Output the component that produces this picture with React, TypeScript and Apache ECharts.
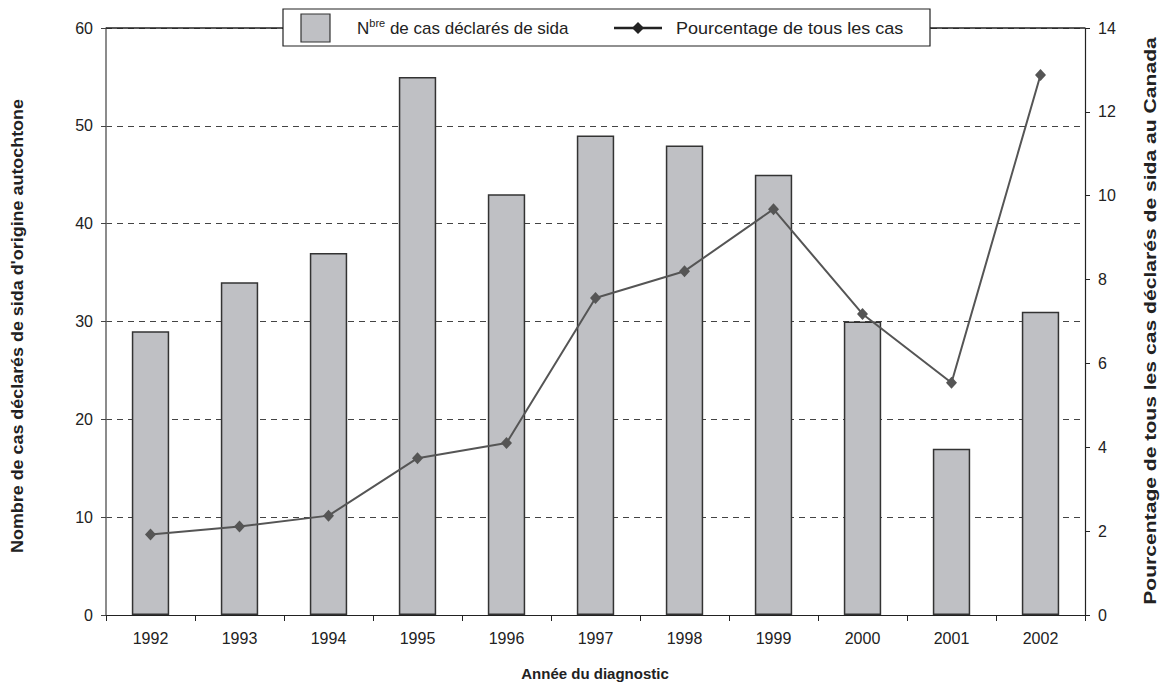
import React, { useEffect, useRef } from "react";
import * as echarts from "echarts";

const years = ["1992", "1993", "1994", "1995", "1996", "1997", "1998", "1999", "2000", "2001", "2002"];
const cases = [29, 34, 37, 55, 43, 49, 48, 45, 30, 17, 31];
const percent = [1.92, 2.11, 2.37, 3.74, 4.1, 7.56, 8.2, 9.68, 7.18, 5.54, 12.88];

const FONT = "Liberation Sans, Arial, sans-serif";
const leftTitle = "Nombre de cas déclarés de sida d'origine autochtone";
const rightTitle = "Pourcentage de tous les cas déclarés de sida au Canada";
const xTitle = "Année du diagnostic";

export default function App() {
  const ref = useRef<HTMLDivElement>(null);
  useEffect(() => {
    if (!ref.current) return;
    const chart = echarts.init(ref.current, undefined, { renderer: "svg" });
    chart.setOption({
      animation: false,
      backgroundColor: "#ffffff",
      textStyle: { fontFamily: FONT },
      grid: { left: 106, right: 82, top: 28, bottom: 69, show: false, containLabel: false, outerBoundsMode: "none" },
      xAxis: {
        type: "category",
        data: years,
        boundaryGap: true,
        axisLine: { lineStyle: { color: "#222", width: 1.2 } },
        axisTick: { show: true, length: 6, lineStyle: { color: "#222" } },
        axisLabel: { color: "#222", fontSize: 16, margin: 15, fontFamily: FONT },
      },
      yAxis: [
        {
          type: "value",
          min: 0,
          max: 60,
          interval: 10,
          axisLine: { show: true, lineStyle: { color: "#666", width: 1.5 } },
          axisTick: { show: true, length: 5, lineStyle: { color: "#444" } },
          axisLabel: { color: "#222", fontSize: 16, margin: 13, fontFamily: FONT },
          splitLine: { show: true, lineStyle: { color: "#444", type: [6, 5], width: 1 } },
        },
        {
          type: "value",
          min: 0,
          max: 14,
          interval: 2,
          position: "right",
          axisLine: { show: true, lineStyle: { color: "#222", width: 1.2 } },
          axisTick: { show: true, length: 5, lineStyle: { color: "#222" } },
          axisLabel: { color: "#222", fontSize: 16, margin: 13, fontFamily: FONT },
          splitLine: { show: false },
        },
      ],
      series: [
        {
          type: "bar",
          name: "Nbre de cas déclarés de sida",
          data: cases,
          yAxisIndex: 0,
          barWidth: "42%",
          itemStyle: { color: "#bfc0c4", borderColor: "#333", borderWidth: 1.5 },
        },
        {
          type: "line",
          name: "Pourcentage de tous les cas",
          data: percent,
          yAxisIndex: 1,
          symbol: "diamond",
          symbolSize: [11, 12],
          lineStyle: { color: "#555", width: 2 },
          itemStyle: { color: "#555" },
        },
      ],
      graphic: [
        { type: "line", shape: { x1: 106, y1: 28, x2: 1085, y2: 28 }, style: { stroke: "#222", lineWidth: 1.5 }, z: 50 },
        { type: "rect", shape: { x: 283, y: 9, width: 647, height: 37 }, style: { fill: "#fff", stroke: "#222", lineWidth: 1.2 }, z: 60 },
        { type: "rect", shape: { x: 301, y: 14, width: 29, height: 28 }, style: { fill: "#bfc0c4", stroke: "#333", lineWidth: 1.2 }, z: 61 },
        {
          type: "text",
          x: 357,
          y: 28,
          z: 61,
          style: {
            text: "{n|N}{s|bre}{n| de cas déclarés de sida}",
            verticalAlign: "middle",
            fill: "#222",
            rich: {
              n: { fontSize: 17, fontFamily: FONT, fill: "#222", lineHeight: 22 },
              s: { fontSize: 11, fontFamily: FONT, fill: "#222", verticalAlign: "top", lineHeight: 22 },
            },
          },
        },
        { type: "line", shape: { x1: 614, y1: 28, x2: 662, y2: 28 }, style: { stroke: "#222", lineWidth: 2.5 }, z: 61 },
        { type: "polygon", shape: { points: [[638, 22], [644, 28], [638, 34], [632, 28]] }, style: { fill: "#222" }, z: 62 },
        {
          type: "text",
          x: 676,
          y: 28,
          z: 61,
          scaleX: 1.06,
          style: { text: "Pourcentage de tous les cas", fontSize: 17, fontFamily: FONT, fill: "#222", verticalAlign: "middle" },
        },
        {
          type: "text",
          x: 18,
          y: 326,
          rotation: Math.PI / 2,
          scaleX: 1.12,
          style: { text: leftTitle, fontSize: 16, fontWeight: "bold", fontFamily: FONT, fill: "#222", align: "center", verticalAlign: "middle" },
        },
        {
          type: "text",
          x: 1150,
          y: 321,
          rotation: Math.PI / 2,
          scaleX: 1.32,
          style: { text: rightTitle, fontSize: 16, fontWeight: "bold", fontFamily: FONT, fill: "#222", align: "center", verticalAlign: "middle" },
        },
        {
          type: "text",
          x: 595,
          y: 673,
          style: { text: xTitle, fontSize: 15, fontWeight: "bold", fontFamily: FONT, fill: "#222", align: "center", verticalAlign: "middle" },
        },
      ],
    });
    return () => chart.dispose();
  }, []);
  return <div ref={ref} style={{ position: "absolute", left: 0, top: 0, width: 1167, height: 684 }} />;
}
